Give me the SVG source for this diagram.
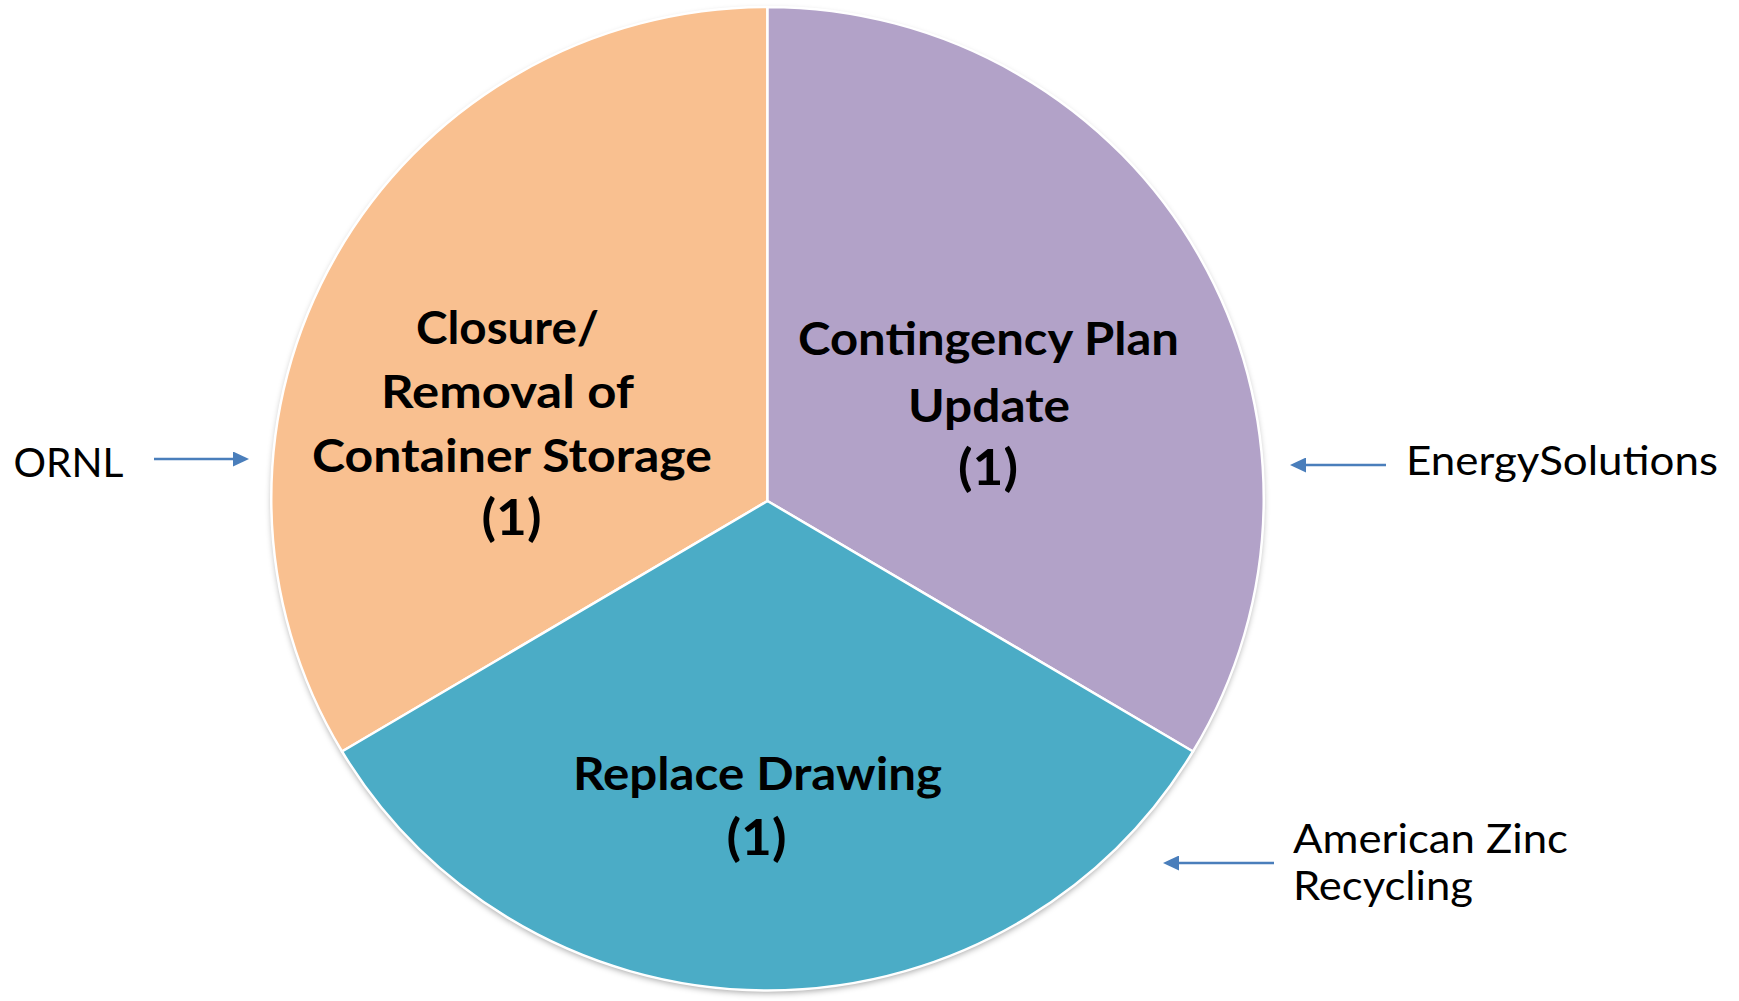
<svg xmlns="http://www.w3.org/2000/svg" width="1739" height="1001" viewBox="0 0 1739 1001">
  <style>
    .slice { stroke: #ffffff; stroke-width: 2.5; stroke-linejoin: round; }
    .bold { font-family: "Lato", "Liberation Sans", sans-serif; font-weight: 700; font-size: 45px; fill: #000000; }
    .num { font-family: "Lato", "Liberation Sans", sans-serif; font-weight: 700; font-size: 50px; fill: #000000; }
    .reg { font-family: "Lato", "Liberation Sans", sans-serif; font-weight: 400; font-size: 40px; fill: #000000; }
    .conn { stroke: #4A7EBB; stroke-width: 2.5; fill: none; }
  </style>
  <defs>
    <marker id="arrow" markerUnits="userSpaceOnUse" markerWidth="16" markerHeight="15" refX="6" refY="7.5" orient="auto">
      <path d="M0,0 L16,7.5 L0,15 Z" fill="#4A7EBB"/>
    </marker>
    <filter id="shadow" x="-5%" y="-5%" width="110%" height="112%">
      <feDropShadow dx="0" dy="3" stdDeviation="3" flood-color="#000000" flood-opacity="0.35"/>
    </filter>
  </defs>
  <rect x="0" y="0" width="1739" height="1001" fill="#ffffff"/>

  <ellipse cx="767.5" cy="498.5" rx="496" ry="491.5" fill="#ffffff" filter="url(#shadow)"/>

  <g id="slice-closure">
    <path class="slice" fill="#F9C090" d="M767.5,501 L767.5,7 A496,491.5 0 0,0 342,751.5 Z"/>
    <text class="bold" x="416" y="344" textLength="183" lengthAdjust="spacingAndGlyphs">Closure/</text>
    <text class="bold" x="381" y="408" textLength="253" lengthAdjust="spacingAndGlyphs">Removal of</text>
    <text class="bold" x="312" y="472" textLength="400" lengthAdjust="spacingAndGlyphs">Container Storage</text>
    <text class="num" x="511.5" y="535" text-anchor="middle" textLength="60" lengthAdjust="spacingAndGlyphs">(1)</text>
  </g>

  <g id="slice-contingency">
    <path class="slice" fill="#B2A2C8" d="M767.5,501 L767.5,7 A496,491.5 0 0,1 1193,751.5 Z"/>
    <text class="bold" x="798" y="355" textLength="381" lengthAdjust="spacingAndGlyphs">Contingency Plan</text>
    <text class="bold" x="908" y="422" textLength="162" lengthAdjust="spacingAndGlyphs">Update</text>
    <text class="num" x="988" y="485" text-anchor="middle" textLength="60" lengthAdjust="spacingAndGlyphs">(1)</text>
  </g>

  <g id="slice-replace">
    <path class="slice" fill="#4BACC6" d="M767.5,501 L342,751.5 A496,491.5 0 0,0 1193,751.5 Z"/>
    <text class="bold" x="573" y="790" textLength="369" lengthAdjust="spacingAndGlyphs">Replace Drawing</text>
    <text class="num" x="756.5" y="855" text-anchor="middle" textLength="60" lengthAdjust="spacingAndGlyphs">(1)</text>
  </g>

  <g id="label-ornl">
    <text class="reg" x="13.5" y="477" textLength="110" lengthAdjust="spacingAndGlyphs">ORNL</text>
  </g>
  <g id="label-energysolutions">
    <text class="reg" x="1406" y="475" textLength="312" lengthAdjust="spacingAndGlyphs">EnergySolutions</text>
  </g>
  <g id="label-americanzinc">
    <text class="reg" x="1293" y="853" textLength="275" lengthAdjust="spacingAndGlyphs">American Zinc</text>
    <text class="reg" x="1293" y="900" textLength="180" lengthAdjust="spacingAndGlyphs">Recycling</text>
  </g>

  <g id="connectors">
    <line class="conn" x1="154" y1="459" x2="239" y2="459" marker-end="url(#arrow)"/>
    <line class="conn" x1="1386" y1="465" x2="1300" y2="465" marker-end="url(#arrow)"/>
    <line class="conn" x1="1274" y1="863" x2="1173" y2="863" marker-end="url(#arrow)"/>
  </g>
</svg>
